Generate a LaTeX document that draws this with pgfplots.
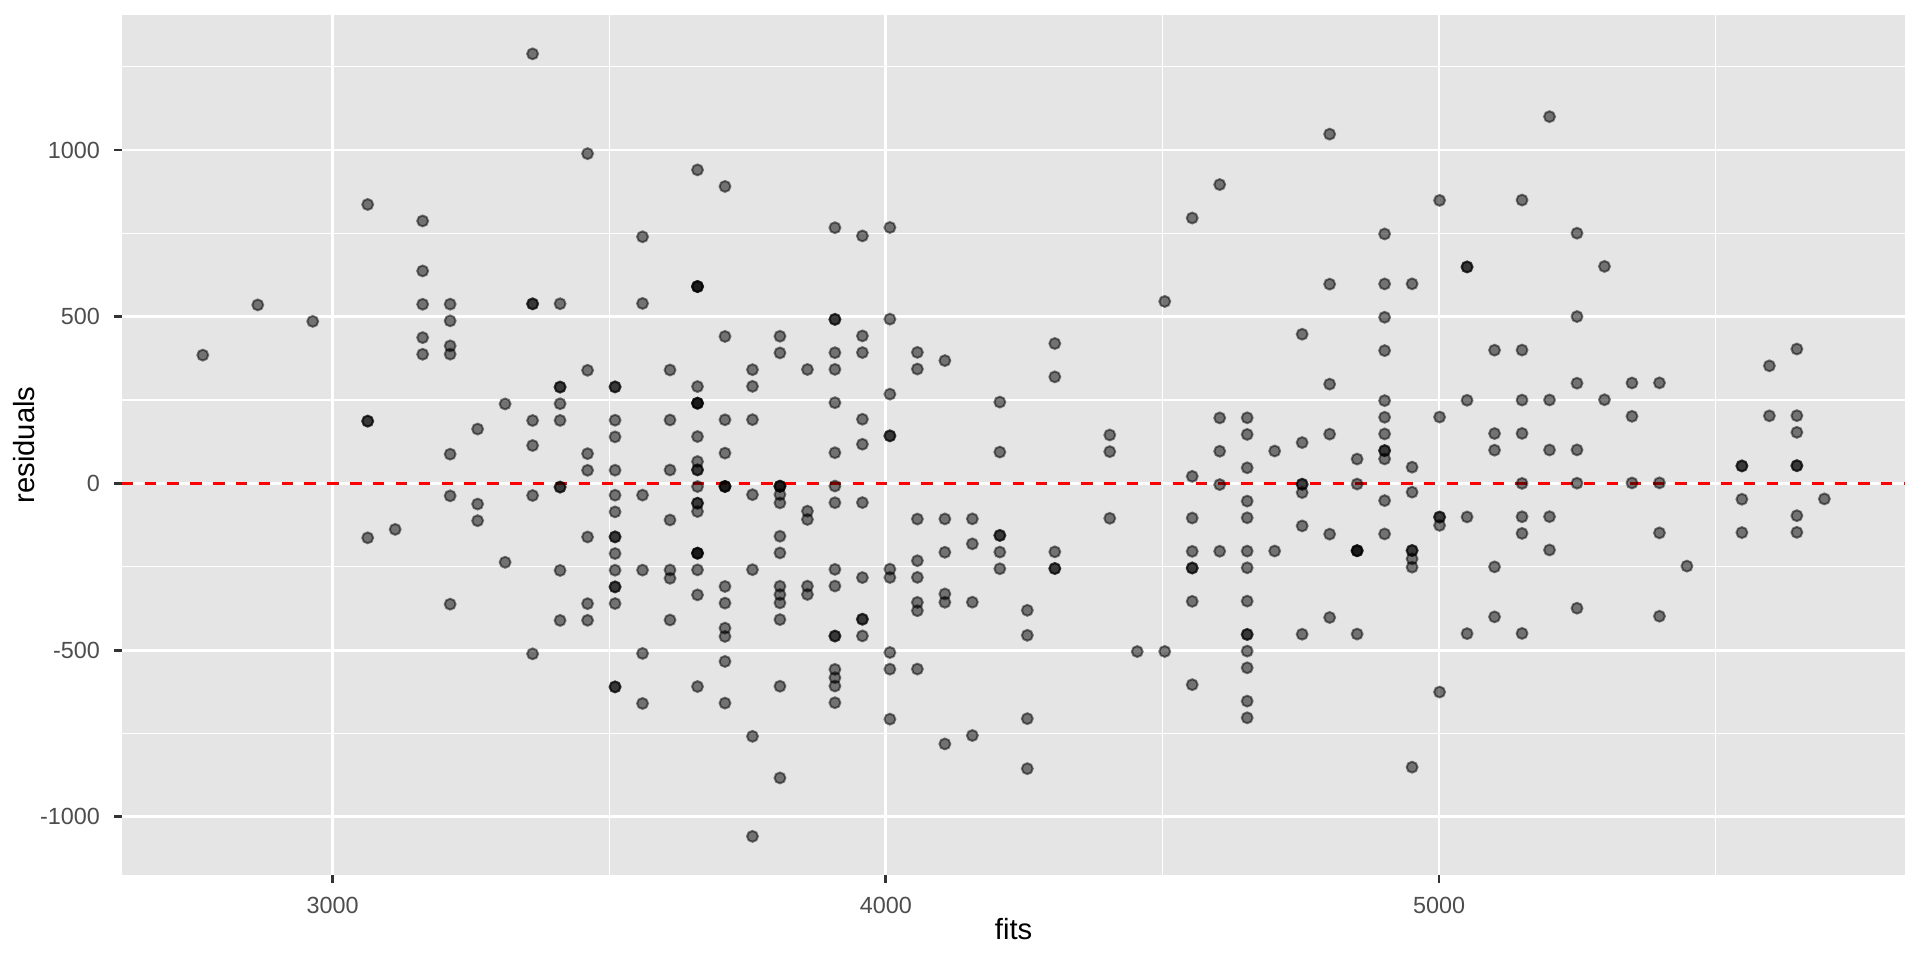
\documentclass[border=0pt]{standalone}
\usepackage{fontspec}
\setmainfont{Liberation Sans}
\usepackage{pgfplots}
\pgfplotsset{compat=1.18}
\definecolor{panelbg}{HTML}{E5E5E5}
\definecolor{grey30}{HTML}{4D4D4D}
\definecolor{grey20}{HTML}{333333}
\begin{document}
\begin{tikzpicture}
\path[use as bounding box] (0,0) rectangle (722.7pt,361.35pt);
\begin{axis}[
  at={(45.81pt,31.81pt)}, anchor=south west,
  width=671.4pt, height=324.0pt, scale only axis,
  xmin=2618.5, xmax=5843.1, ymin=-1176.2, ymax=1406.1,
  axis background/.style={fill=panelbg},
  axis line style={draw=none},
  xtick pos=left, ytick pos=left,
  xtick={3000,4000,5000}, xticklabels={3000,4000,5000},
  ytick={-1000,-500,0,500,1000}, yticklabels={-1000,-500,0,500,1000},
  minor xtick={3500,4500,5500}, minor ytick={-750,-250,250,750,1250},
  grid=both,
  major grid style={white, line width=1.07pt},
  minor grid style={white, line width=0.53pt},
  tick align=outside,
  major tick length=2.75pt, minor tick length=0pt,
  tick style={grey20, line width=1.07pt},
  xticklabel style={font=\fontsize{8.8}{10}\selectfont, text=grey30, anchor=base, inner sep=0pt, yshift=-11.48pt},
  yticklabel style={font=\fontsize{8.8}{10}\selectfont, text=grey30, anchor=east, inner sep=0pt, xshift=-5.27pt},
  xlabel={fits}, ylabel={residuals},
  xlabel style={font=\fontsize{11}{13}\selectfont, at={(axis description cs:0.5,-0.07494)}, anchor=base, inner sep=0pt},
  ylabel style={font=\fontsize{11}{13}\selectfont, at={(axis description cs:-0.04861,0.5)}, rotate=0, anchor=base, inner sep=0pt},
]
\addplot[only marks, mark=*, mark size=2.05pt,
  mark options={draw=black, fill=black, draw opacity=0.5, fill opacity=0.5, line width=0.75pt}]
table[row sep=\\] {
x y \\
2765.09 384.9 \\
2864.46 535.5 \\
2963.83 486.1 \\
3063.20 836.8 \\ 3063.20 186.8 \\ 3063.20 186.8 \\ 3063.20 -163.2 \\
3112.89 -137.9 \\
3162.57 787.4 \\ 3162.57 637.4 \\ 3162.57 537.4 \\ 3162.57 437.4 \\ 3162.57 387.4 \\
3212.26 537.7 \\ 3212.26 487.7 \\ 3212.26 412.7 \\ 3212.26 387.7 \\ 3212.26 87.7 \\ 3212.26 -37.3 \\ 3212.26 -362.3 \\
3261.94 163.1 \\ 3261.94 -61.9 \\ 3261.94 -111.9 \\
3311.63 238.4 \\ 3311.63 -236.6 \\
3361.31 1288.7 \\ 3361.31 538.7 \\ 3361.31 538.7 \\ 3361.31 188.7 \\ 3361.31 113.7 \\ 3361.31 -36.3 \\ 3361.31 -511.3 \\
3411.00 539.0 \\ 3411.00 289.0 \\ 3411.00 289.0 \\ 3411.00 239.0 \\ 3411.00 189.0 \\ 3411.00 -11.0 \\ 3411.00 -11.0 \\ 3411.00 -261.0 \\ 3411.00 -411.0 \\
3460.69 989.3 \\ 3460.69 339.3 \\ 3460.69 89.3 \\ 3460.69 39.3 \\ 3460.69 -160.7 \\ 3460.69 -360.7 \\ 3460.69 -410.7 \\
3510.37 289.6 \\ 3510.37 289.6 \\ 3510.37 189.6 \\ 3510.37 139.6 \\ 3510.37 39.6 \\ 3510.37 -35.4 \\ 3510.37 -85.4 \\ 3510.37 -160.4 \\ 3510.37 -160.4 \\ 3510.37 -210.4 \\ 3510.37 -260.4 \\ 3510.37 -310.4 \\ 3510.37 -310.4 \\ 3510.37 -360.4 \\ 3510.37 -610.4 \\ 3510.37 -610.4 \\
3560.06 739.9 \\ 3560.06 539.9 \\ 3560.06 -35.1 \\ 3560.06 -260.1 \\ 3560.06 -510.1 \\ 3560.06 -660.1 \\
3609.74 340.3 \\ 3609.74 190.3 \\ 3609.74 40.3 \\ 3609.74 -109.7 \\ 3609.74 -259.7 \\ 3609.74 -284.7 \\ 3609.74 -409.7 \\
3659.43 940.6 \\ 3659.43 590.6 \\ 3659.43 590.6 \\ 3659.43 590.6 \\ 3659.43 290.6 \\ 3659.43 240.6 \\ 3659.43 240.6 \\ 3659.43 240.6 \\ 3659.43 140.6 \\ 3659.43 65.6 \\ 3659.43 40.6 \\ 3659.43 40.6 \\ 3659.43 -9.4 \\ 3659.43 -59.4 \\ 3659.43 -59.4 \\ 3659.43 -84.4 \\ 3659.43 -209.4 \\ 3659.43 -209.4 \\ 3659.43 -209.4 \\ 3659.43 -259.4 \\ 3659.43 -334.4 \\ 3659.43 -609.4 \\
3709.11 890.9 \\ 3709.11 440.9 \\ 3709.11 190.9 \\ 3709.11 90.9 \\ 3709.11 -9.1 \\ 3709.11 -9.1 \\ 3709.11 -9.1 \\ 3709.11 -309.1 \\ 3709.11 -359.1 \\ 3709.11 -434.1 \\ 3709.11 -459.1 \\ 3709.11 -534.1 \\ 3709.11 -659.1 \\
3758.80 341.2 \\ 3758.80 291.2 \\ 3758.80 191.2 \\ 3758.80 -33.8 \\ 3758.80 -258.8 \\ 3758.80 -758.8 \\ 3758.80 -1058.8 \\
3808.48 441.5 \\ 3808.48 391.5 \\ 3808.48 -8.5 \\ 3808.48 -8.5 \\ 3808.48 -8.5 \\ 3808.48 -33.5 \\ 3808.48 -58.5 \\ 3808.48 -158.5 \\ 3808.48 -208.5 \\ 3808.48 -308.5 \\ 3808.48 -333.5 \\ 3808.48 -358.5 \\ 3808.48 -408.5 \\ 3808.48 -608.5 \\ 3808.48 -883.5 \\
3858.17 341.8 \\ 3858.17 -83.2 \\ 3858.17 -108.2 \\ 3858.17 -308.2 \\ 3858.17 -333.2 \\
3907.86 767.1 \\ 3907.86 492.1 \\ 3907.86 492.1 \\ 3907.86 392.1 \\ 3907.86 342.1 \\ 3907.86 242.1 \\ 3907.86 92.1 \\ 3907.86 -7.9 \\ 3907.86 -57.9 \\ 3907.86 -257.9 \\ 3907.86 -307.9 \\ 3907.86 -457.9 \\ 3907.86 -457.9 \\ 3907.86 -557.9 \\ 3907.86 -582.9 \\ 3907.86 -607.9 \\ 3907.86 -657.9 \\
3957.54 742.5 \\ 3957.54 442.5 \\ 3957.54 392.5 \\ 3957.54 192.5 \\ 3957.54 117.5 \\ 3957.54 -57.5 \\ 3957.54 -282.5 \\ 3957.54 -407.5 \\ 3957.54 -407.5 \\ 3957.54 -457.5 \\
4007.23 767.8 \\ 4007.23 492.8 \\ 4007.23 267.8 \\ 4007.23 142.8 \\ 4007.23 142.8 \\ 4007.23 -257.2 \\ 4007.23 -282.2 \\ 4007.23 -507.2 \\ 4007.23 -557.2 \\ 4007.23 -707.2 \\
4056.91 393.1 \\ 4056.91 343.1 \\ 4056.91 -106.9 \\ 4056.91 -231.9 \\ 4056.91 -281.9 \\ 4056.91 -356.9 \\ 4056.91 -381.9 \\ 4056.91 -556.9 \\
4106.60 368.4 \\ 4106.60 -106.6 \\ 4106.60 -206.6 \\ 4106.60 -331.6 \\ 4106.60 -356.6 \\ 4106.60 -781.6 \\
4156.28 -106.3 \\ 4156.28 -181.3 \\ 4156.28 -356.3 \\ 4156.28 -756.3 \\
4205.97 244.0 \\ 4205.97 94.0 \\ 4205.97 -156.0 \\ 4205.97 -156.0 \\ 4205.97 -206.0 \\ 4205.97 -256.0 \\
4255.65 -380.7 \\ 4255.65 -455.7 \\ 4255.65 -705.7 \\ 4255.65 -855.7 \\
4305.34 419.7 \\ 4305.34 319.7 \\ 4305.34 -205.3 \\ 4305.34 -255.3 \\ 4305.34 -255.3 \\
4404.71 145.3 \\ 4404.71 95.3 \\ 4404.71 -104.7 \\
4454.40 -504.4 \\
4504.08 545.9 \\ 4504.08 -504.1 \\
4553.77 796.2 \\ 4553.77 21.2 \\ 4553.77 -103.8 \\ 4553.77 -203.8 \\ 4553.77 -253.8 \\ 4553.77 -253.8 \\ 4553.77 -353.8 \\ 4553.77 -603.8 \\
4603.45 896.5 \\ 4603.45 196.5 \\ 4603.45 96.5 \\ 4603.45 -3.5 \\ 4603.45 -203.5 \\
4653.14 196.9 \\ 4653.14 146.9 \\ 4653.14 46.9 \\ 4653.14 -53.1 \\ 4653.14 -103.1 \\ 4653.14 -203.1 \\ 4653.14 -253.1 \\ 4653.14 -353.1 \\ 4653.14 -453.1 \\ 4653.14 -453.1 \\ 4653.14 -503.1 \\ 4653.14 -553.1 \\ 4653.14 -653.1 \\ 4653.14 -703.1 \\
4702.82 97.2 \\ 4702.82 -202.8 \\
4752.51 447.5 \\ 4752.51 122.5 \\ 4752.51 -2.5 \\ 4752.51 -2.5 \\ 4752.51 -27.5 \\ 4752.51 -127.5 \\ 4752.51 -452.5 \\
4802.20 1047.8 \\ 4802.20 597.8 \\ 4802.20 297.8 \\ 4802.20 147.8 \\ 4802.20 -152.2 \\ 4802.20 -402.2 \\
4851.88 73.1 \\ 4851.88 -1.9 \\ 4851.88 -201.9 \\ 4851.88 -201.9 \\ 4851.88 -201.9 \\ 4851.88 -451.9 \\
4901.57 748.4 \\ 4901.57 598.4 \\ 4901.57 498.4 \\ 4901.57 398.4 \\ 4901.57 248.4 \\ 4901.57 198.4 \\ 4901.57 148.4 \\ 4901.57 98.4 \\ 4901.57 98.4 \\ 4901.57 73.4 \\ 4901.57 -51.6 \\ 4901.57 -151.6 \\
4951.25 598.7 \\ 4951.25 48.7 \\ 4951.25 -26.3 \\ 4951.25 -201.3 \\ 4951.25 -201.3 \\ 4951.25 -226.3 \\ 4951.25 -251.3 \\ 4951.25 -851.3 \\
5000.94 849.1 \\ 5000.94 199.1 \\ 5000.94 -100.9 \\ 5000.94 -100.9 \\ 5000.94 -125.9 \\ 5000.94 -625.9 \\
5050.62 649.4 \\ 5050.62 649.4 \\ 5050.62 249.4 \\ 5050.62 -100.6 \\ 5050.62 -450.6 \\
5100.31 399.7 \\ 5100.31 149.7 \\ 5100.31 99.7 \\ 5100.31 -250.3 \\ 5100.31 -400.3 \\
5149.99 850.0 \\ 5149.99 400.0 \\ 5149.99 250.0 \\ 5149.99 150.0 \\ 5149.99 0.0 \\ 5149.99 -100.0 \\ 5149.99 -150.0 \\ 5149.99 -450.0 \\
5199.68 1100.3 \\ 5199.68 250.3 \\ 5199.68 100.3 \\ 5199.68 -99.7 \\ 5199.68 -199.7 \\
5249.37 750.6 \\ 5249.37 500.6 \\ 5249.37 300.6 \\ 5249.37 100.6 \\ 5249.37 0.6 \\ 5249.37 -374.4 \\
5299.05 651.0 \\ 5299.05 251.0 \\
5348.74 301.3 \\ 5348.74 201.3 \\ 5348.74 1.3 \\
5398.42 301.6 \\ 5398.42 1.6 \\ 5398.42 -148.4 \\ 5398.42 -398.4 \\
5448.11 -248.1 \\
5547.48 52.5 \\ 5547.48 52.5 \\ 5547.48 -47.5 \\ 5547.48 -147.5 \\
5597.17 352.8 \\ 5597.17 202.8 \\
5646.85 403.2 \\ 5646.85 203.2 \\ 5646.85 153.2 \\ 5646.85 53.2 \\ 5646.85 53.2 \\ 5646.85 -96.8 \\ 5646.85 -146.8 \\
5696.54 -46.5 \\
};
\addplot[red, line width=1.07pt, dash pattern=on 4.3pt off 4.3pt] coordinates {(2618.5,0) (5843.1,0)};
\end{axis}
\end{tikzpicture}
\end{document}
